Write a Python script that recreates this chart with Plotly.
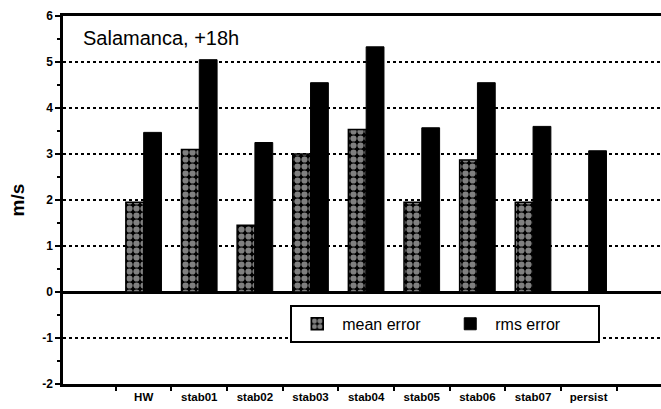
import plotly.graph_objects as go

# Forecast runs and wind-speed error statistics (m/s)
runs = ["HW", "stab01", "stab02", "stab03", "stab04", "stab05", "stab06", "stab07", "persist"]
mean_error = [1.95, 3.1, 1.45, 3.0, 3.53, 1.95, 2.87, 1.95, None]
rms_error = [3.47, 5.05, 3.25, 4.55, 5.33, 3.57, 4.55, 3.6, 3.07]

y_ticks = [-2, -1, 0, 1, 2, 3, 4, 5, 6]
y_tick_text = ["-2", "-1", "0", "1", "2", "3", "4", "5", "6"]

FONT = "Liberation Sans, Arial, sans-serif"

fig = go.Figure()
fig.add_trace(go.Bar(
    x=runs, y=mean_error, name="mean error",
    marker=dict(color="black", line=dict(color="black", width=1.5),
                pattern=dict(shape=".", fgcolor="white", bgcolor="black",
                             size=7, solidity=0.62, fillmode="overlay")),
))
fig.add_trace(go.Bar(
    x=runs, y=rms_error, name="rms error",
    marker=dict(color="black", line=dict(color="black", width=1)),
))

fig.update_layout(
    width=661, height=409,
    margin=dict(l=63, r=0, t=16, b=25, autoexpand=False),
    paper_bgcolor="white", plot_bgcolor="white",
    barmode="group", bargap=0.36, bargroupgap=0.0,
    font=dict(family=FONT, color="black"),
    legend=dict(
        orientation="h", x=0.38, y=0.215, xanchor="left", yanchor="top",
        bordercolor="black", borderwidth=2, bgcolor="white",
        font=dict(size=16), itemwidth=40, entrywidth=98,
    ),
    annotations=[dict(
        text="Salamanca, +18h", xref="paper", yref="paper",
        x=0.03, y=0.975, xanchor="left", yanchor="top", showarrow=False,
        font=dict(size=20),
    )],
)

fig.update_xaxes(
    type="category", range=[-1.45, 9.3],
    showline=True, linecolor="black", linewidth=2.5, mirror=True,
    ticks="outside", ticklen=4, tickwidth=2, tickcolor="black",
    tickson="boundaries", tickangle=0,
    tickfont=dict(size=11.5, family=FONT, weight="bold"),
    showgrid=False,
)
fig.update_yaxes(
    range=[-2, 6], tickvals=y_ticks, ticktext=y_tick_text,
    showline=True, linecolor="black", linewidth=2.5,
    ticks="outside", ticklen=5, tickwidth=2, tickcolor="black",
    minor=dict(ticks="outside", ticklen=3, tickwidth=1.5, tickcolor="black",
               dtick=0.5, showgrid=False),
    showgrid=True, gridcolor="black", gridwidth=1.5, griddash="dot",
    zeroline=True, zerolinecolor="black", zerolinewidth=2.5,
    tickfont=dict(size=12, family=FONT, weight="bold"),
    title=dict(text="m/s", font=dict(size=19, weight="bold"), standoff=13),
)

fig.write_html("out.html")
